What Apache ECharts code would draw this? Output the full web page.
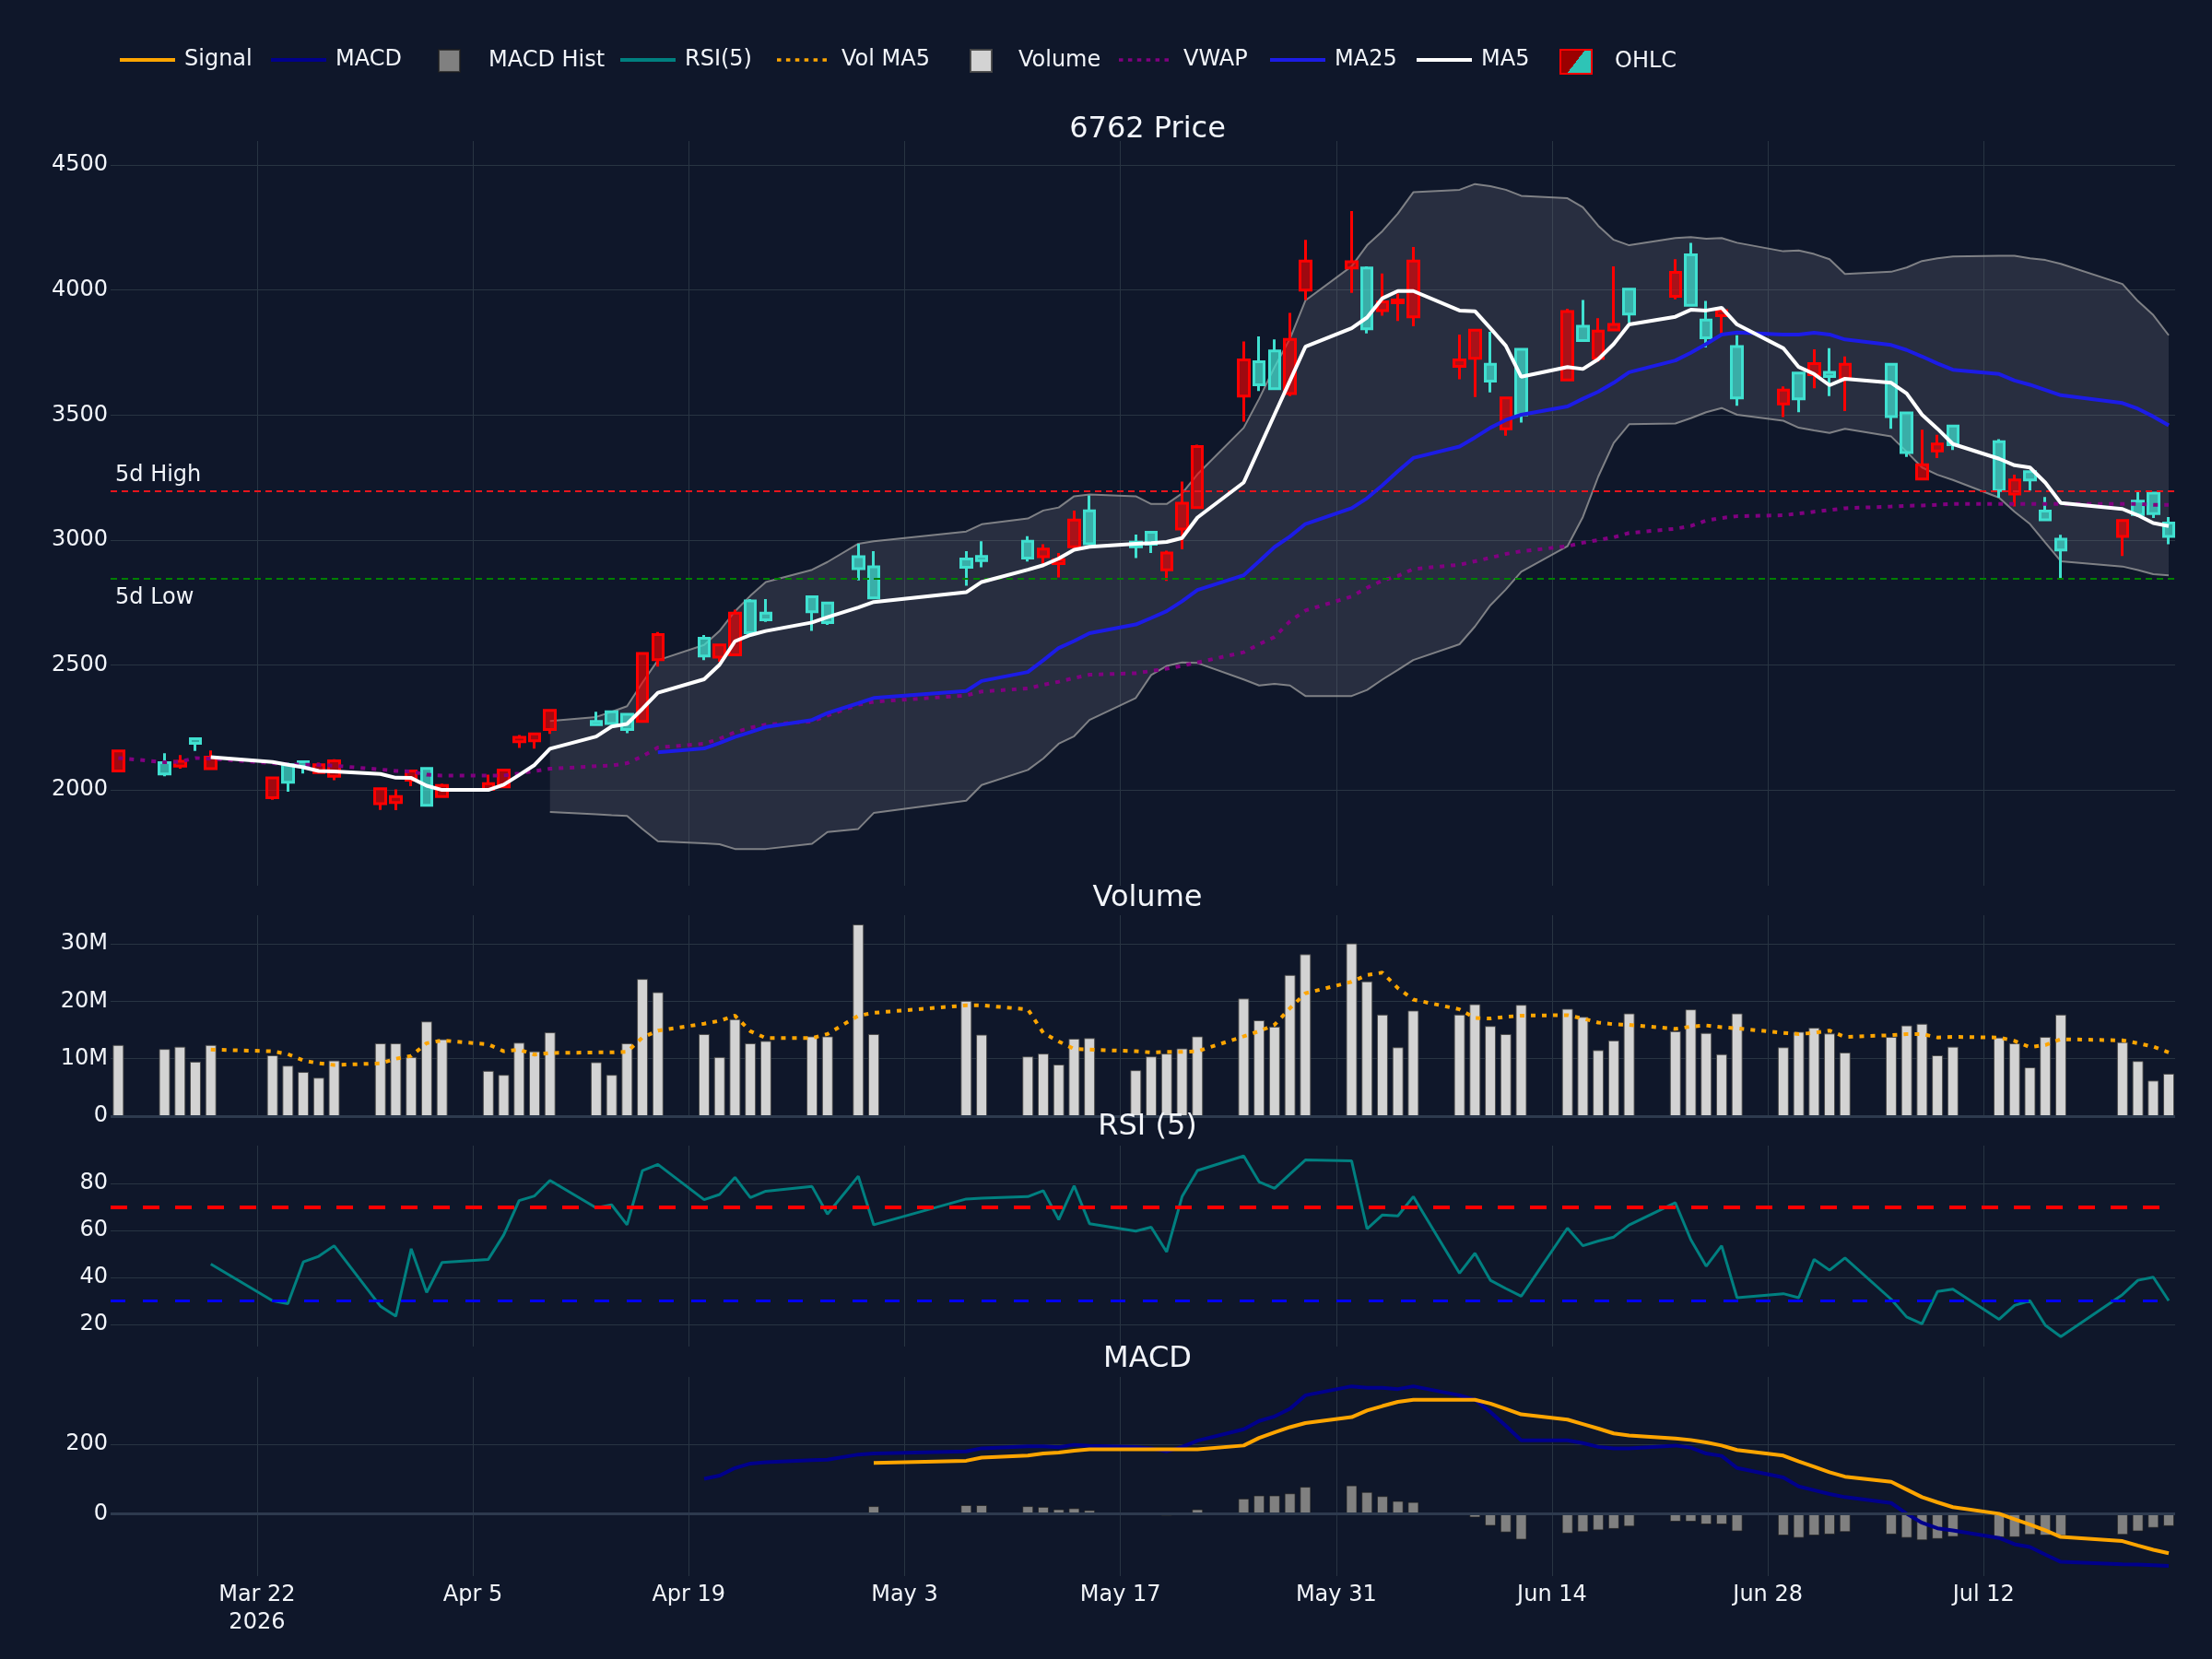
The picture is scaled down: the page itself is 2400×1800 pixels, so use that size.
<!DOCTYPE html>
<html>
<head>
<meta charset="utf-8">
<script src="https://cdn.jsdelivr.net/npm/echarts@6/dist/echarts.min.js"></script>
<style>
  html, body { margin: 0; padding: 0; background: #0f172a; }
  #main { width: 2400px; height: 1800px; }
</style>
</head>
<body>
<div id="main"></div>
<script>
// trading days (Tokyo calendar)
var dates = ['2026-03-13','2026-03-16','2026-03-17','2026-03-18','2026-03-19','2026-03-23','2026-03-24','2026-03-25','2026-03-26','2026-03-27',
  '2026-03-30','2026-03-31','2026-04-01','2026-04-02','2026-04-03','2026-04-06','2026-04-07','2026-04-08','2026-04-09','2026-04-10',
  '2026-04-13','2026-04-14','2026-04-15','2026-04-16','2026-04-17','2026-04-20','2026-04-21','2026-04-22','2026-04-23','2026-04-24',
  '2026-04-27','2026-04-28','2026-04-30','2026-05-01','2026-05-07','2026-05-08','2026-05-11','2026-05-12','2026-05-13','2026-05-14',
  '2026-05-15','2026-05-18','2026-05-19','2026-05-20','2026-05-21','2026-05-22','2026-05-25','2026-05-26','2026-05-27','2026-05-28',
  '2026-05-29','2026-06-01','2026-06-02','2026-06-03','2026-06-04','2026-06-05','2026-06-08','2026-06-09','2026-06-10','2026-06-11',
  '2026-06-12','2026-06-15','2026-06-16','2026-06-17','2026-06-18','2026-06-19','2026-06-22','2026-06-23','2026-06-24','2026-06-25',
  '2026-06-26','2026-06-29','2026-06-30','2026-07-01','2026-07-02','2026-07-03','2026-07-06','2026-07-07','2026-07-08','2026-07-09',
  '2026-07-10','2026-07-13','2026-07-14','2026-07-15','2026-07-16','2026-07-17','2026-07-21','2026-07-22','2026-07-23','2026-07-24'];

var open = [2156,2064,2115,2187,2131, 2048,2031,2095,2101,2117, 2005,1974,2076,1939,2018, 2025,2080,2211,2224,2318,
  2261,2266,2242,2546,2622, 2536,2580,2707,2629,2681, 2713,2670,2885,2768,2891, 2918,2928,2964,2921,3080,
  2985,2973,2983,2948,3147, 3374,3720,3621,3605,3802, 4116,4113,3845,3953,3960, 4116,3720,3839,3636,3568,
  3501,3914,3798,3836,3862, 3904,4071,3939,3809,3918, 3568,3600,3565,3706,3654, 3703,3494,3350,3301,3384,
  3381,3198,3240,3240,3081, 2960,3078,3102,3106,3014];
var high = [2158,2147,2140,2207,2158, 2050,2109,2113,2109,2123, 2007,2002,2078,2086,2025, 2061,2083,2220,2226,2322,
  2313,2318,2303,2548,2632, 2620,2582,2721,2764,2764, 2773,2752,2985,2955,2955, 2995,3015,2983,2948,3118,
  3178,3022,3031,2957,3234, 3381,3794,3814,3802,3908, 4201,4316,4095,4066,3986, 4172,3822,3841,3833,3572,
  3763,3925,3960,3887,4095, 4003,4123,4189,3956,3922, 3819,3614,3668,3763,3767, 3734,3703,3508,3441,3421,
  3456,3403,3261,3273,3172, 3021,3081,3191,3188,3092];
var low = [2074,2055,2085,2156,2082, 1961,1993,2066,2064,2039, 1920,1919,2015,1937,1972, 2000,2010,2168,2165,2224,
  2259,2264,2227,2270,2494, 2519,2513,2539,2623,2672, 2636,2660,2838,2766,2817, 2891,2914,2906,2850,2973,
  2985,2928,2948,2836,2963, 3128,3473,3596,3605,3576, 3960,3989,3826,3897,3876, 3855,3643,3572,3590,3417,
  3470,3640,3798,3713,3840, 3869,3963,3939,3770,3826, 3537,3492,3511,3607,3576, 3516,3445,3332,3244,3328,
  3360,3169,3134,3198,3081, 2847,2936,3102,3088,2983];
var close = [2076,2109,2095,2205,2085, 1969,2101,2113,2070,2055, 1945,1950,2039,2086,1974, 2002,2012,2193,2197,2242,
  2274,2313,2303,2274,2521, 2607,2531,2541,2756,2707, 2773,2748,2933,2893,2924, 2934,2995,2933,2906,2973,
  3117,2991,3031,2881,3044, 3130,3576,3713,3756,3586, 4000,4088,4088,3918,3949, 3893,3695,3727,3703,3445,
  3763,3640,3855,3727,3840, 4003,3975,4141,3880,3897, 3774,3544,3668,3661,3671, 3645,3703,3508,3244,3356,
  3456,3393,3184,3273,3116, 3003,3014,3155,3188,3068];

var ma5 = [null,null,null,null,2131, 2112,2101,2091,2076,2074, 2064,2049,2048,2017,2000, 2000,2021,2060,2100,2165,
  2214,2254,2264,2325,2389, 2443,2501,2595,2620,2636, 2670,2691,2730,2752,2791, 2832,2881,2899,2926,2961,
  2973,2985,2988,2992,3008, 3090,3230,3366,3502,3637, 3773,3847,3890,3967,3996, 3996,3918,3915,3847,3777,
  3653,3692,3684,3723,3784, 3862,3893,3921,3918,3929, 3862,3767,3692,3664,3619, 3645,3629,3586,3501,3445,
  3384,3325,3299,3290,3229, 3148,3124,3099,3068,3056];
var ma25 = [null,null,null,null,null, null,null,null,null,null, null,null,null,null,null, null,null,null,null,null,
  null,null,null,null,2151, 2166,2188,2212,2231,2252, 2280,2308,2347,2368,2396, 2436,2472,2519,2568,2596,
  2627,2662,2688,2715,2755, 2800,2859,2915,2972,3014, 3064,3127,3167,3219,3275, 3328,3374,3410,3449,3480,
  3501,3534,3565,3593,3629, 3671,3718,3749,3784,3822, 3830,3822,3822,3829,3822, 3802,3780,3760,3734,3706,
  3681,3664,3638,3621,3600, 3579,3548,3525,3494,3459];
var vwap = [2128,2111,2113,2128,2125, 2107,2103,2101,2101,2097, 2082,2076,2074,2061,2058, 2058,2058,2066,2076,2085,
  2095,2098,2107,2135,2170, 2185,2205,2231,2249,2261, 2274,2298,2341,2353,2378, 2394,2406,2421,2433,2448,
  2461,2467,2476,2485,2497, 2510,2551,2583,2612,2675, 2718,2774,2809,2838,2856, 2884,2901,2915,2929,2944,
  2955,2975,2989,3000,3011, 3028,3045,3056,3078,3088, 3095,3099,3106,3113,3120, 3127,3134,3137,3138,3141,
  3144,3144,3144,3144,3144, 3144,3144,3144,3141,3141];
var bbUpper = [null,null,null,null,null, null,null,null,null,null, null,null,null,null,null, null,null,null,null,2276,
  2292,2313,2335,2430,2519, 2580,2636,2715,2777,2832, 2881,2912,2985,2995,3034, 3063,3086,3118,3130,3175,
  3182,3175,3144,3144,3186, 3263,3449,3565,3692,3805, 3958,4095,4179,4236,4306, 4391,4401,4424,4415,4401,
  4377,4367,4331,4257,4201, 4179,4208,4212,4205,4208, 4189,4155,4158,4144,4123, 4064,4073,4090,4116,4127,
  4134,4137,4137,4127,4120, 4105,4024,3956,3900,3819];
var bbLower = [null,null,null,null,null, null,null,null,null,null, null,null,null,null,null, null,null,null,null,1912,
  1903,1899,1896,1844,1795, 1787,1783,1764,1764,1764, 1785,1832,1844,1908,1957, 2020,2080,2126,2185,2215,
  2280,2368,2460,2496,2510, 2508,2442,2418,2424,2418, 2376,2376,2400,2442,2480, 2520,2583,2654,2739,2802,
  2873,2975,3092,3254,3388, 3463,3466,3487,3511,3528, 3501,3477,3449,3438,3428, 3445,3414,3353,3290,3261,
  3240,3169,3113,3064,2989, 2915,2894,2880,2863,2859];

// volume in millions of shares
var volume = [12.4,11.7,12.1,9.5,12.4, 10.6,8.8,7.7,6.7,9.7, 12.7,12.7,10.3,16.5,13.4, 7.9,7.2,12.8,11.3,14.6,
  9.4,7.2,12.7,23.9,21.6, 14.3,10.3,16.9,12.7,13.1, 13.9,13.9,33.4,14.3,20.1, 14.2,10.4,10.9,9.0,13.5,
  13.6,8.0,10.4,10.9,11.8, 13.9,20.5,16.7,15.6,24.6, 28.2,30.1,23.5,17.7,12.0, 18.4,17.7,19.5,15.7,14.3,
  19.4,18.7,17.3,11.5,13.2, 17.9,14.8,18.6,14.5,10.8, 17.9,12.0,14.7,15.4,14.4, 11.1,13.8,15.8,16.1,10.6,
  12.1,13.7,12.7,8.5,13.8, 17.7,12.9,9.6,6.2,7.4];
var volMa5 = [null,null,null,null,11.6, 11.3,10.8,9.7,9.2,8.9, 9.2,10.0,10.5,12.7,13.2, 12.5,11.3,11.6,10.7,11.0,
  11.1,11.1,11.2,13.7,14.9, 16.1,16.6,17.5,14.8,13.6, 13.6,14.3,17.5,18.0,19.3, 19.3,18.6,14.5,13.0,11.7,
  11.6,11.3,11.1,11.2,11.2, 11.3,13.9,14.8,15.9,18.8, 21.4,23.4,24.6,25.0,22.3, 20.3,18.6,17.1,17.0,17.3,
  17.5,17.6,17.0,16.3,16.0, 15.9,15.2,15.6,15.8,15.5, 15.3,14.5,14.3,14.5,14.9, 13.8,14.1,14.3,14.3,13.7,
  13.8,13.7,13.1,12.0,12.4, 13.4,13.2,12.7,12.1,11.1];

var rsi = [null,null,null,null,45.7, 30.1,28.8,46.6,49.0,53.5, 27.8,23.5,52.2,33.6,46.4, 47.7,58.1,72.7,74.7,81.3,
  69.6,70.9,62.4,85.5,88.1, 73.1,75.3,82.6,74.0,76.7, 78.7,67.0,83.1,62.4,73.4, 73.7,74.4,76.9,64.6,79.0,
  62.9,59.7,61.4,50.9,74.4, 85.5,91.7,80.7,77.9,84.0, 90.0,89.6,60.7,66.6,66.2, 74.4,41.8,50.3,38.8,35.3,
  32.0,61.0,53.5,55.5,57.2, 62.3,71.8,56.1,44.8,53.5, 31.4,33.1,31.4,47.7,43.1, 48.3,30.7,23.2,20.3,34.0,
  35.0,22.2,28.1,30.1,19.6, 14.8,32.7,38.8,40.1,30.1];

var macd = [null,null,null,null,null, null,null,null,null,null, null,null,null,null,null, null,null,null,null,null,
  null,null,null,null,null, 101,110,132,145,149, 155,156,171,174,180, 189,195,195,192,199,
  196,193,189,180,193, 211,244,268,281,303, 342,368,364,364,360, 368,342,329,294,254,
  212,212,204,193,189, 189,197,191,174,167, 132,105,79,68,57, 48,31,0,-26,-42,
  -48,-70,-88,-96,-118, -139,-146,-147,-149,-151];
var signal = [null,null,null,null,null, null,null,null,null,null, null,null,null,null,null, null,null,null,null,null,
  null,null,null,null,null, null,null,null,null,null, null,null,null,147,153, 162,168,174,177,182,
  186,186,186,186,186, 186,197,219,235,250, 262,279,298,311,323, 329,329,329,318,303,
  287,272,259,246,232, 226,217,213,206,197, 184,168,151,136,120, 107,92,70,48,33,
  19,0,-16,-31,-48, -67,-79,-92,-104,-114];
var macdHist = [null,null,null,null,null, null,null,null,null,null, null,null,null,null,null, null,null,null,null,null,
  null,null,null,null,null, null,null,null,null,null, null,null,null,22,25, 25,22,20,13,16,
  10.5,3,-2,-6,-3, 13,44,53,53,59, 78,82,63,51,37, 34,3,-11,-35,-54,
  -75,-57,-53,-48,-44, -37,-23,-23,-31,-31, -51,-63,-70,-63,-60, -53,-60,-70,-77,-73,
  -67,-68,-68,-61,-63, -64,-61,-51,-41,-36];

// reference levels
var levelNames = ['5d High', '5d Low'];
var levelValues = [3195, 2846];
var rsiLevels = [70, 30];

// axis ticks
var tickDates = ['2026-03-22','2026-04-05','2026-04-19','2026-05-03','2026-05-17','2026-05-31','2026-06-14','2026-06-28','2026-07-12'];
var tickLabels = ['Mar 22\n2026','Apr 5','Apr 19','May 3','May 17','May 31','Jun 14','Jun 28','Jul 12'];
var priceTicks = [2000, 2500, 3000, 3500, 4000, 4500];
var volTicks = [0, 10, 20, 30];
var rsiTicks = [20, 40, 60, 80];
var macdTicks = [0, 200];

var FONT = 'DejaVu Sans';
var TXT = '#f2f5fa';
var GRIDC = '#283442';
var DOTS = 'path://M0,0h5v4h-5zM11,0h5v4h-5zM22,0h5v4h-5zM33,0h5v4h-5zM44,0h5v4h-5zM55,0h5v4h-5z';

function toTs(s) {
  var p = s.split('-');
  return Date.UTC(+p[0], +p[1] - 1, +p[2]);
}
var t = dates.map(toTs);
var tickTs = tickDates.map(toTs);
var xMin = Date.UTC(2026, 2, 12, 12);
var xMax = Date.UTC(2026, 6, 24, 10);

function pts(arr) {
  var out = [];
  for (var i = 0; i < arr.length; i++) {
    if (arr[i] != null) out.push([t[i], arr[i]]);
  }
  return out;
}

var candles = t.map(function (x, i) { return [x, open[i], close[i], low[i], high[i]]; });

function xAxis(idx, showLabels) {
  return {
    type: 'value', gridIndex: idx, min: xMin, max: xMax, scale: true,
    axisLine: { show: false },
    axisTick: { show: false, customValues: tickTs },
    axisLabel: {
      show: showLabels, customValues: tickTs, color: TXT, fontSize: 24, fontFamily: FONT,
      lineHeight: 30, margin: 6, hideOverlap: false,
      formatter: function (v) {
        var k = tickTs.indexOf(v);
        return k >= 0 ? tickLabels[k] : '';
      }
    },
    splitLine: { show: true, lineStyle: { color: GRIDC, width: 1 } }
  };
}

function yAxis(idx, min, max, ticks, fmt) {
  return {
    type: 'value', gridIndex: idx, min: min, max: max,
    axisLine: { show: false },
    axisTick: { show: false, customValues: ticks },
    axisLabel: {
      customValues: ticks, color: TXT, fontSize: 24, fontFamily: FONT, margin: 3,
      formatter: fmt || function (v) { return String(v); }
    },
    splitLine: { show: true, lineStyle: { color: GRIDC, width: 1 } }
  };
}

function lineSeries(name, data, xi, color, width, type, z) {
  return {
    name: name, type: 'line', xAxisIndex: xi, yAxisIndex: xi, data: pts(data),
    symbol: 'none', smooth: false, z: z || 3,
    lineStyle: { color: color, width: width, type: type || 'solid' },
    itemStyle: { color: color }
  };
}

function legendBox(name, left, opts) {
  var o = {
    data: [name], left: left, top: 53, padding: 0, itemWidth: 60, itemHeight: 4, icon: 'rect',
    textStyle: { color: TXT, fontSize: 24, fontFamily: FONT, rich: { s: { width: 5 } } },
    formatter: function (n) { return '{s| }' + n; }
  };
  for (var k in opts) o[k] = opts[k];
  return o;
}

var myChart = echarts.init(document.getElementById('main'), null, { renderer: 'canvas' });

var titleStyle = { color: TXT, fontSize: 32, fontWeight: 'normal', fontFamily: FONT };

var option = {
  backgroundColor: '#0f172a',
  animation: false,
  title: [
    { text: '6762 Price', left: 1240, top: 120, textAlign: 'center', textStyle: titleStyle },
    { text: 'Volume', left: 1240, top: 954, textAlign: 'center', textStyle: titleStyle },
    { text: 'RSI (5)', left: 1240, top: 1202, textAlign: 'center', textStyle: titleStyle },
    { text: 'MACD', left: 1240, top: 1454, textAlign: 'center', textStyle: titleStyle }
  ],
  legend: [
    legendBox('Signal', 130, {}),
    legendBox('MACD', 294, {}),
    legendBox('MACD Hist', 475, { itemWidth: 23, itemHeight: 24,
      textStyle: { color: TXT, fontSize: 24, fontFamily: FONT, rich: { s: { width: 26 } } } }),
    legendBox('RSI(5)', 673, {}),
    legendBox('Vol MA5', 843, { icon: DOTS, itemWidth: 54 ,
      textStyle: { color: TXT, fontSize: 24, fontFamily: FONT, rich: { s: { width: 11 } } } }),
    legendBox('Volume', 1052, { itemWidth: 23, itemHeight: 24,
      textStyle: { color: TXT, fontSize: 24, fontFamily: FONT, rich: { s: { width: 24 } } } }),
    legendBox('VWAP', 1214, { icon: DOTS, itemWidth: 54,
      textStyle: { color: TXT, fontSize: 24, fontFamily: FONT, rich: { s: { width: 11 } } } }),
    legendBox('MA25', 1378, {}),
    legendBox('MA5', 1537, {}),
    legendBox('OHLC', 1692, {
      data: [{
        name: 'OHLC', icon: 'rect',
        itemStyle: {
          color: { type: 'linear', x: 0, y: 0, x2: 1, y2: 1,
            colorStops: [{ offset: 0, color: '#9b0000' }, { offset: 0.5, color: '#9b0000' },
                         { offset: 0.5, color: '#2ec4b6' }, { offset: 1, color: '#2ec4b6' }] },
          borderColor: '#ff0000', borderWidth: 2
        }
      }],
      itemWidth: 34, itemHeight: 26,
      textStyle: { color: TXT, fontSize: 24, fontFamily: FONT, rich: { s: { width: 20 } } }
    })
  ],
  grid: [
    { left: 120, right: 40, top: 153, height: 808 },
    { left: 120, right: 40, top: 993, height: 218 },
    { left: 120, right: 40, top: 1243, height: 218 },
    { left: 120, right: 40, top: 1494, height: 216 }
  ],
  xAxis: [xAxis(0, false), xAxis(1, false), xAxis(2, false), xAxis(3, true)],
  yAxis: [
    yAxis(0, 1617, 4596, priceTicks),
    yAxis(1, 0, 35, volTicks, function (v) { return v === 0 ? '0' : v + 'M'; }),
    yAxis(2, 10.6, 96.1, rsiTicks),
    yAxis(3, -180, 395, macdTicks)
  ],
  series: [
    {
      // Bollinger band fill
      type: 'custom', xAxisIndex: 0, yAxisIndex: 0, silent: true, z: 1,
      data: [[t[19], bbLower[19]]],
      renderItem: function (params, api) {
        var poly = [];
        for (var i = 0; i < t.length; i++) {
          if (bbUpper[i] != null) poly.push(api.coord([t[i], bbUpper[i]]));
        }
        for (var j = t.length - 1; j >= 0; j--) {
          if (bbLower[j] != null) poly.push(api.coord([t[j], bbLower[j]]));
        }
        return { type: 'polygon', shape: { points: poly }, style: { fill: 'rgba(140,140,155,0.2)' } };
      }
    },
    lineSeries('BB Upper', bbUpper, 0, 'rgba(160,160,160,0.75)', 2, 'solid', 2),
    lineSeries('BB Lower', bbLower, 0, 'rgba(160,160,160,0.75)', 2, 'solid', 2),
    {
      name: 'OHLC', type: 'candlestick', xAxisIndex: 0, yAxisIndex: 0, data: candles, z: 3,
      barWidth: 12,
      itemStyle: {
        color: 'rgba(64,224,208,0.72)', color0: 'rgba(255,0,0,0.6)',
        borderColor: '#40e0d0', borderColor0: '#ff0000', borderWidth: 3
      },
      markLine: {
        silent: true, symbol: ['none', 'none'], animation: false,
        data: [
          { yAxis: levelValues[0], lineStyle: { color: '#e8141c', width: 2, type: [7, 5] },
            label: { show: true, formatter: levelNames[0], position: 'insideStartTop', color: TXT, fontSize: 24, fontFamily: FONT } },
          { yAxis: levelValues[1], lineStyle: { color: '#008000', width: 2, type: [7, 5] },
            label: { show: true, formatter: levelNames[1], position: 'insideStartBottom', distance: [5, 9], color: TXT, fontSize: 24, fontFamily: FONT } }
        ]
      }
    },
    lineSeries('VWAP', vwap, 0, '#800080', 4, [5, 7], 4),
    lineSeries('MA25', ma25, 0, '#1c1ce6', 4, 'solid', 5),
    lineSeries('MA5', ma5, 0, '#ffffff', 4, 'solid', 6),
    {
      name: 'Volume', type: 'bar', xAxisIndex: 1, yAxisIndex: 1, data: pts(volume), barWidth: 12,
      itemStyle: { color: '#d3d3d3', borderColor: 'rgba(70,70,70,0.9)', borderWidth: 1 },
      markLine: {
        silent: true, symbol: ['none', 'none'], label: { show: false },
        lineStyle: { color: '#2d3a4e', width: 3, type: 'solid' },
        data: [{ yAxis: 0 }]
      }
    },
    lineSeries('Vol MA5', volMa5, 1, '#ffa500', 4, [5, 7], 4),
    {
      name: 'RSI(5)', type: 'line', xAxisIndex: 2, yAxisIndex: 2, data: pts(rsi), symbol: 'none',
      lineStyle: { color: '#008080', width: 3 }, itemStyle: { color: '#008080' },
      markLine: {
        silent: true, symbol: ['none', 'none'], label: { show: false },
        data: [
          { yAxis: rsiLevels[0], lineStyle: { color: '#ff0000', width: 4, type: [18, 17] } },
          { yAxis: rsiLevels[1], lineStyle: { color: '#0000ff', width: 3, type: [16, 19] } }
        ]
      }
    },
    {
      name: 'MACD Hist', type: 'bar', xAxisIndex: 3, yAxisIndex: 3, data: pts(macdHist), barWidth: 12,
      itemStyle: { color: '#808080', borderColor: 'rgba(30,30,30,0.7)', borderWidth: 1 },
      markLine: {
        silent: true, symbol: ['none', 'none'], label: { show: false },
        lineStyle: { color: '#2d3a4e', width: 3, type: 'solid' },
        data: [{ yAxis: 0 }]
      }
    },
    lineSeries('MACD', macd, 3, '#00008b', 4, 'solid', 4),
    lineSeries('Signal', signal, 3, '#ffa500', 4, 'solid', 5)
  ]
};

myChart.setOption(option);
</script>
</body>
</html>
